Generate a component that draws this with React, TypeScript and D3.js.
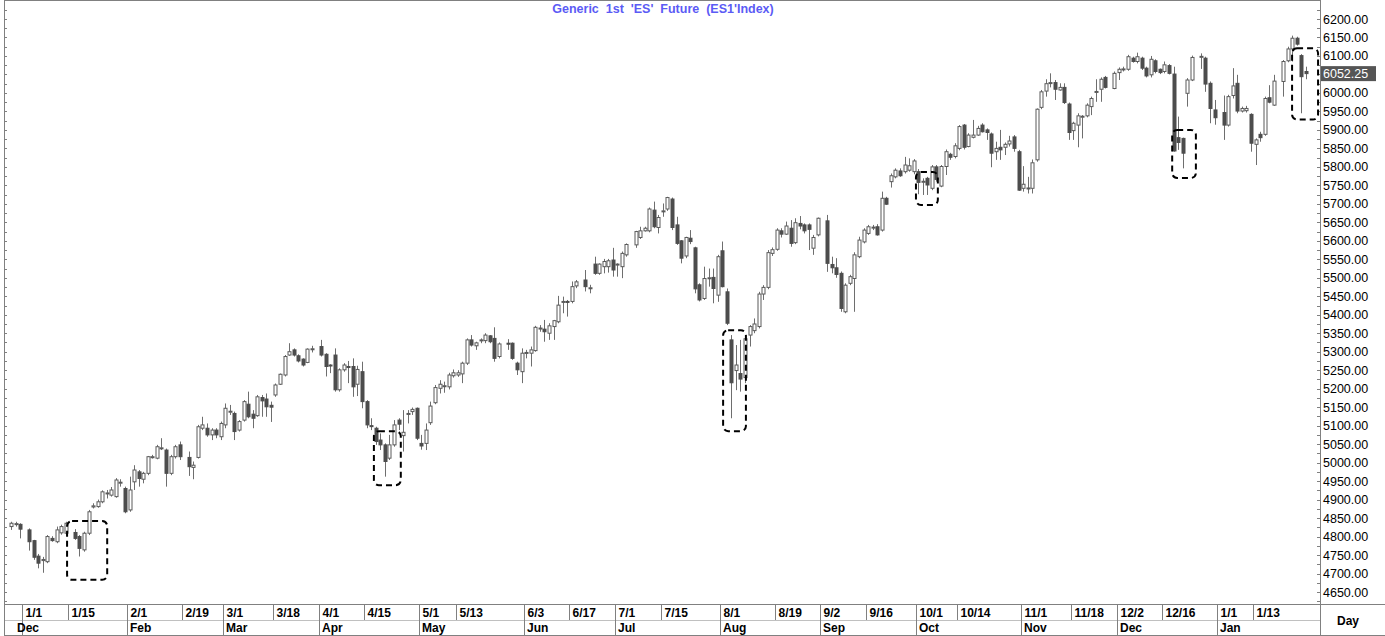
import React from 'react';
import * as d3 from 'd3';

// ---- Data (ES1 Index, daily OHLC, weekdays from 2023-12-27; null = no session) ----
const firstDate = '2023-12-27';
const lastDate = '2025-01-28';

const opens: (number | null)[] = [
  4827, 4834, 4833, null, 4818, 4789, 4747, 4735, 4732, 4795, 4786, 4810, 4809, null, 4811, 4800, 4764, 4809, 4880, 4881,
  4894, 4917, 4912, 4908, 4945, 4930, 4872, 4948, 4975, 4955, 4971, 5016, 5012, 5038, 5034, 4971, 5016, 5048, null, 5014,
  4987, 5014, 5093, 5093, 5075, 5088, 5070, 5102, 5138, 5133, 5088, 5115, 5158, 5131, 5127, 5176, 5172, 5155, 5183, 5212,
  5237, 5291, 5305, 5289, 5280, 5271, 5307, null, 5314, 5293, 5264, 5291, 5197, 5251, 5260, 5260, 5212, 5246, 5165, 5100,
  5093, 5061, 5048, 5012, 5048, 5115, 5073, 5131, 5138, 5147, 5052, 5052, 5108, 5162, 5201, 5207, 5205, 5235, 5237, 5240,
  5269, 5332, 5316, 5330, 5330, 5343, 5336, 5287, null, 5323, 5323, 5269, 5246, 5296, 5296, 5303, 5363, 5361, 5350, 5368,
  5381, 5435, 5436, 5436, 5478, null, 5494, 5472, 5537, 5512, 5530, 5530, 5548, 5535, 5530, 5562, null, 5589, 5609, 5627,
  5627, 5683, 5636, 5681, 5686, 5713, 5643, 5600, 5559, 5607, 5581, 5481, 5444, 5498, 5501, 5453, 5573, 5462, 5332, 5249,
  5241, 5230, 5345, 5357, 5368, 5456, 5474, 5566, 5577, 5627, 5618, 5634, 5595, 5647, 5643, 5643, 5580, 5616, null, 5654,
  5536, 5527, 5512, 5408, 5485, 5498, 5557, 5597, 5620, 5636, 5638, 5629, 5715, 5760, 5773, 5789, 5787, 5791, 5787, 5787,
  5760, 5769, 5742, 5800, 5748, 5801, 5834, 5828, 5850, 5913, 5855, 5880, 5886, 5913, 5900, 5889, 5841, 5853, 5853, 5862,
  5881, 5841, 5742, 5742, 5742, 5819, 5961, 6005, 6027, 6028, 6008, 6015, 5970, 5898, 5913, 5936, 5938, 5963, 6003, 6010,
  6042, null, 6012, 6055, 6064, 6064, 6094, 6085, 6094, 6067, 6049, 6087, 6064, 6058, 6074, 6051, 5879, 5877, 5999, 6035,
  null, 6098, 6094, 6026, 5954, null, 5947, 5913, 5993, 6026, 5951, 5952, 5942, 5861, 5888, 5888, 5987, 5967, null, 6031,
  6087, 6119, 6148, 6101, 6058,
];
const highs: (number | null)[] = [
  4840, 4840, 4836, null, 4822, 4791, 4753, 4745, 4804, 4801, 4827, 4832, 4840, null, 4820, 4804, 4813, 4872, 4890, 4900,
  4925, 4926, 4934, 4958, 4955, 4935, 4962, 4993, 4980, 4975, 5018, 5021, 5048, 5066, 5038, 5021, 5048, 5057, null, 5030,
  5003, 5102, 5124, 5106, 5093, 5093, 5111, 5160, 5156, 5138, 5115, 5169, 5192, 5142, 5183, 5183, 5187, 5165, 5214, 5241,
  5291, 5323, 5309, 5293, 5282, 5309, 5316, null, 5332, 5296, 5266, 5309, 5255, 5269, 5275, 5282, 5262, 5273, 5169, 5120,
  5097, 5079, 5052, 5075, 5115, 5120, 5142, 5142, 5149, 5149, 5075, 5106, 5165, 5210, 5223, 5219, 5243, 5252, 5250, 5273,
  5336, 5345, 5327, 5336, 5350, 5345, 5366, 5325, null, 5334, 5325, 5273, 5309, 5305, 5314, 5370, 5372, 5386, 5377, 5386,
  5451, 5449, 5440, 5490, 5494, null, 5521, 5481, 5557, 5539, 5551, 5551, 5581, 5539, 5571, 5593, null, 5627, 5638, 5638,
  5690, 5706, 5670, 5701, 5719, 5717, 5665, 5602, 5611, 5629, 5584, 5485, 5530, 5525, 5525, 5562, 5598, 5471, 5345, 5318,
  5332, 5345, 5372, 5390, 5462, 5480, 5575, 5582, 5634, 5634, 5652, 5656, 5661, 5667, 5647, 5647, 5616, 5663, null, 5670,
  5557, 5553, 5517, 5485, 5508, 5569, 5611, 5634, 5643, 5643, 5645, 5733, 5719, 5782, 5796, 5796, 5827, 5823, 5821, 5794,
  5769, 5773, 5805, 5805, 5805, 5847, 5838, 5864, 5913, 5916, 5891, 5927, 5911, 5918, 5904, 5893, 5868, 5900, 5866, 5884,
  5886, 5846, 5802, 5773, 5820, 5958, 6008, 6037, 6053, 6035, 6026, 6026, 5974, 5922, 5945, 5940, 5972, 5990, 6037, 6042,
  6046, null, 6058, 6069, 6071, 6103, 6098, 6109, 6098, 6071, 6100, 6091, 6066, 6085, 6078, 6071, 5936, 5879, 6040, 6101,
  null, 6107, 6098, 6031, 5981, null, 5993, 5995, 6067, 6049, 5963, 5965, 5945, 5877, 5895, 5990, 6021, 6049, null, 6089,
  6125, 6155, 6152, 6105, 6071,
];
const lows: (number | null)[] = [
  4818, 4827, 4795, null, 4762, 4737, 4714, 4702, 4728, 4786, 4782, 4805, 4804, null, 4791, 4746, 4759, 4804, 4876, 4878,
  4890, 4903, 4908, 4905, 4935, 4863, 4867, 4926, 4935, 4944, 4966, 5011, 5009, 5034, 4935, 4966, 5011, 5007, null, 4964,
  4955, 5011, 5088, 5070, 5061, 5066, 5061, 5093, 5129, 5061, 5084, 5111, 5120, 5093, 5124, 5124, 5124, 5110, 5178, 5210,
  5233, 5289, 5287, 5271, 5260, 5269, 5298, null, 5287, 5233, 5242, 5192, 5192, 5246, 5215, 5178, 5180, 5147, 5093, 5088,
  5048, 5034, 4962, 5007, 5043, 5088, 5030, 5106, 5129, 5061, 5035, 5034, 5102, 5158, 5187, 5189, 5198, 5230, 5232, 5215,
  5264, 5314, 5305, 5323, 5323, 5323, 5273, 5282, null, 5305, 5278, 5237, 5215, 5282, 5260, 5300, 5354, 5327, 5332, 5332,
  5377, 5404, 5395, 5431, 5472, null, 5463, 5458, 5508, 5508, 5512, 5514, 5503, 5503, 5499, 5557, null, 5581, 5605, 5625,
  5623, 5634, 5620, 5665, 5681, 5629, 5589, 5539, 5553, 5591, 5458, 5436, 5440, 5476, 5431, 5435, 5474, 5372, 5120, 5196,
  5192, 5215, 5314, 5350, 5363, 5440, 5469, 5559, 5573, 5609, 5616, 5584, 5591, 5631, 5620, 5575, 5562, 5612, null, 5516,
  5512, 5500, 5408, 5404, 5480, 5408, 5553, 5593, 5616, 5629, 5614, 5625, 5697, 5744, 5769, 5773, 5782, 5787, 5780, 5726,
  5724, 5724, 5737, 5760, 5745, 5778, 5819, 5823, 5845, 5847, 5853, 5877, 5884, 5893, 5873, 5799, 5819, 5819, 5832, 5855,
  5841, 5735, 5733, 5728, 5728, 5814, 5956, 5990, 6015, 5981, 6006, 5970, 5873, 5873, 5853, 5877, 5934, 5940, 5976, 5976,
  6012, null, 6010, 6035, 6058, 6060, 6082, 6080, 6062, 6042, 6042, 6053, 6051, 6053, 6050, 5841, 5846, 5796, 5963, 6032,
  null, 6065, 6003, 5918, 5914, null, 5873, 5909, 5985, 5945, 5947, 5947, 5841, 5805, 5868, 5884, 5972, 5965, null, 5990,
  6083, 6085, 6128, 5945, 6037,
];
const closes: (number | null)[] = [
  4836, 4835, 4820, null, 4786, 4744, 4728, 4738, 4800, 4789, 4818, 4827, 4836, null, 4795, 4768, 4809, 4867, 4883, 4894,
  4921, 4918, 4926, 4953, 4947, 4867, 4926, 4980, 4957, 4971, 5016, 5016, 5043, 5040, 4971, 5016, 5043, 5016, null, 4989,
  4993, 5097, 5102, 5075, 5088, 5075, 5106, 5147, 5139, 5084, 5111, 5165, 5124, 5120, 5178, 5167, 5151, 5150, 5210, 5239,
  5287, 5300, 5291, 5275, 5264, 5307, 5308, null, 5291, 5260, 5262, 5197, 5251, 5264, 5258, 5205, 5252, 5165, 5102, 5099,
  5057, 5048, 5003, 5048, 5102, 5104, 5082, 5133, 5144, 5066, 5045, 5088, 5153, 5203, 5212, 5208, 5237, 5243, 5243, 5269,
  5332, 5318, 5324, 5332, 5345, 5327, 5282, 5321, null, 5321, 5282, 5251, 5296, 5298, 5305, 5366, 5364, 5354, 5370, 5384,
  5426, 5436, 5435, 5476, 5489, null, 5476, 5473, 5512, 5537, 5544, 5546, 5521, 5537, 5566, 5590, null, 5625, 5627, 5634,
  5686, 5638, 5663, 5681, 5717, 5636, 5593, 5553, 5609, 5598, 5470, 5440, 5498, 5500, 5471, 5557, 5476, 5377, 5216, 5264,
  5226, 5335, 5368, 5375, 5456, 5474, 5568, 5576, 5629, 5618, 5640, 5593, 5649, 5640, 5627, 5631, 5609, 5661, null, 5539,
  5527, 5509, 5417, 5480, 5503, 5562, 5602, 5629, 5638, 5637, 5616, 5715, 5699, 5776, 5791, 5776, 5805, 5803, 5816, 5758,
  5761, 5751, 5800, 5766, 5801, 5841, 5826, 5857, 5909, 5853, 5886, 5886, 5904, 5895, 5893, 5837, 5850, 5846, 5861, 5870,
  5850, 5737, 5753, 5743, 5811, 5956, 6003, 6025, 6028, 6010, 6015, 5974, 5893, 5918, 5938, 5937, 5967, 5985, 6004, 6037,
  6015, null, 6053, 6064, 6065, 6098, 6085, 6098, 6067, 6046, 6091, 6058, 6055, 6076, 6053, 5843, 5866, 5837, 6035, 6096,
  null, 6099, 6024, 5958, 5933, null, 5913, 5990, 6019, 5951, 5958, 5958, 5864, 5873, 5879, 5985, 5975, 6032, null, 6085,
  6119, 6148, 6132, 6044, 6052.25,
];

const lastPrice = 6052.25;
const priceTicks = d3.range(4650, 6201, 50);
const minorTicks = d3.range(4625, 6226, 25);

const dayTicks: [string, string][] = [
  ['2024-01-01', '1/1'], ['2024-01-15', '1/15'], ['2024-02-01', '2/1'], ['2024-02-19', '2/19'],
  ['2024-03-01', '3/1'], ['2024-03-18', '3/18'], ['2024-04-01', '4/1'], ['2024-04-15', '4/15'],
  ['2024-05-01', '5/1'], ['2024-05-13', '5/13'], ['2024-06-03', '6/3'], ['2024-06-17', '6/17'],
  ['2024-07-01', '7/1'], ['2024-07-15', '7/15'], ['2024-08-01', '8/1'], ['2024-08-19', '8/19'],
  ['2024-09-02', '9/2'], ['2024-09-16', '9/16'], ['2024-10-01', '10/1'], ['2024-10-14', '10/14'],
  ['2024-11-01', '11/1'], ['2024-11-18', '11/18'], ['2024-12-02', '12/2'], ['2024-12-16', '12/16'],
  ['2025-01-01', '1/1'], ['2025-01-13', '1/13'],
];
const monthTicks: [string, string][] = [
  ['2023-12-27', 'Dec'], ['2024-02-01', 'Feb'], ['2024-03-01', 'Mar'], ['2024-04-01', 'Apr'],
  ['2024-05-01', 'May'], ['2024-06-03', 'Jun'], ['2024-07-01', 'Jul'], ['2024-08-01', 'Aug'],
  ['2024-09-02', 'Sep'], ['2024-10-01', 'Oct'], ['2024-11-01', 'Nov'], ['2024-12-02', 'Dec'],
  ['2025-01-01', 'Jan'],
];
const monthStarts: string[] = [
  '2024-01-01', '2024-02-01', '2024-03-01', '2024-04-01', '2024-05-01', '2024-06-03', '2024-07-01',
  '2024-08-01', '2024-09-02', '2024-10-01', '2024-11-01', '2024-12-02', '2025-01-01',
];

// Annotation boxes: [from bar index, to bar index (fractional edges), low price, high price]
const boxes: [number, number, number, number][] = [
  [12.3, 21.1, 4683, 4842],
  [79.6, 85.5, 4939, 5085],
  [156.2, 161.2, 5085, 5358],
  [198.5, 203.3, 5697, 5786],
  [254.7, 259.9, 5770, 5900],
  [281.0, 286.7, 5928, 6121],
];

const title = "Generic  1st  'ES'  Future  (ES1'Index)";

// ---- helpers ----
const fmt = d3.utcFormat('%Y-%m-%d');
const dates: string[] = d3.utcDays(new Date(firstDate + 'T00:00:00Z'), new Date(lastDate + 'T12:00:00Z'))
  .filter((d) => d.getUTCDay() !== 0 && d.getUTCDay() !== 6)
  .map(fmt);

const W = 1385;
const H = 636;
const plotL = 4;
const plotR = 1320;
const plotT = 0;
const plotB = 604;

const FONT = "'Liberation Sans', Arial, sans-serif";

export default function App() {
  const x = d3.scaleBand<string>().domain(dates).range([8.72, 8.72 + dates.length * 4.559]).padding(0);
  const bw = x.bandwidth();
  const cx = (d: string) => (x(d) as number) + bw / 2;
  const xi = d3.scaleLinear().domain([0, dates.length - 1]).range([cx(dates[0]), cx(dates[dates.length - 1])]);
  const y = d3.scaleLinear().domain([4650, 6200]).range([592, 19]);

  const candles = dates.map((d, i) => ({
    d, o: opens[i], h: highs[i], l: lows[i], c: closes[i],
  })).filter((k) => k.o != null && k.c != null);

  const dark = '#4d4d4d';
  const wickCol = '#6e6e6e';

  return (
    <svg width={W} height={H} style={{ position: 'absolute', left: 0, top: 0, display: 'block', background: '#fff' }}
      fontFamily={FONT}>
      <rect x={0} y={0} width={W} height={H} fill="#fff" />
      {/* plot frame */}
      <rect x={plotL + 0.5} y={plotT + 0.5} width={plotR - plotL} height={plotB - plotT} fill="none" stroke="#808080" strokeWidth={1} />
      {/* left minor ticks */}
      {minorTicks.map((v) => (
        <line key={'lt' + v} x1={plotL} x2={plotL + 3} y1={Math.round(y(v)) + 0.5} y2={Math.round(y(v)) + 0.5} stroke="#808080" />
      ))}
      {/* right ticks */}
      {minorTicks.map((v) => (
        <line key={'rt' + v} x1={plotR - 3} x2={plotR} y1={Math.round(y(v)) + 0.5} y2={Math.round(y(v)) + 0.5} stroke="#808080" />
      ))}
      {/* title */}
      <text x={663} y={13} textAnchor="middle" fontSize={12.5} fontWeight="bold" fill="#5b5bf5" style={{ whiteSpace: 'pre' }}>
        {title}
      </text>
      {/* candles */}
      {candles.map((k) => {
        const up = (k.c as number) >= (k.o as number);
        const xc = Math.round(cx(k.d)) + 0.5;
        const yo = y(k.o as number);
        const yc = y(k.c as number);
        const top = Math.min(yo, yc);
        const bh = Math.max(1, Math.abs(yo - yc));
        return (
          <g key={k.d}>
            <line x1={xc} x2={xc} y1={y(k.h as number)} y2={y(k.l as number)} stroke={wickCol} strokeWidth={1} />
            <rect x={xc - 1.5} y={top} width={3} height={bh} fill={up ? '#fff' : dark} stroke={up ? '#5a5a5a' : dark} strokeWidth={1} />
          </g>
        );
      })}
      {/* annotation boxes */}
      {boxes.map(([i0, i1, lo, hi], i) => {
        const x0 = xi(i0);
        const x1 = xi(i1);
        return (
          <rect key={'b' + i} x={x0} y={y(hi)} width={x1 - x0} height={y(lo) - y(hi)} rx={5} ry={5}
            fill="none" stroke="#000" strokeWidth={2} strokeDasharray="6 4" />
        );
      })}
      {/* right axis labels */}
      {priceTicks.map((v) => (
        <text key={'pl' + v} x={1323} y={y(v) + 4.5} fontSize={12.5} fill="#000">{v.toFixed(2)}</text>
      ))}
      {/* last price box */}
      <rect x={1321} y={y(lastPrice) - 7.5} width={55} height={15} fill="#555" />
      <text x={1323} y={y(lastPrice) + 4.5} fontSize={12.5} fill="#fff">{lastPrice.toFixed(2)}</text>
      {/* bottom axis */}
      <line x1={plotL} x2={W} y1={plotB + 0.5} y2={plotB + 0.5} stroke="#808080" />
      <line x1={plotL} x2={plotR} y1={620.5} y2={620.5} stroke="#c0c0c0" />
      <line x1={plotL} x2={W} y1={H - 0.5} y2={H - 0.5} stroke="#808080" />
      <line x1={plotL + 0.5} x2={plotL + 0.5} y1={plotB} y2={H} stroke="#808080" />
      <line x1={plotR + 0.5} x2={plotR + 0.5} y1={plotB} y2={H} stroke="#808080" />
      {dayTicks.map(([d, lab]) => {
        const xt = Math.round((x(d) as number)) + 0.5;
        return (
          <g key={'dt' + d}>
            <line x1={xt} x2={xt} y1={plotB} y2={620} stroke="#808080" />
            <text x={xt + 3} y={616.5} fontSize={12} fontWeight="bold" fill="#000">{lab}</text>
          </g>
        );
      })}
      {monthStarts.map((d) => {
        const xt = Math.round((x(d) as number)) + 0.5;
        return <line key={'ms' + d} x1={xt} x2={xt} y1={620} y2={H} stroke="#808080" />;
      })}
      {monthTicks.map(([d, lab], i) => {
        const xt = i === 0 ? 17 : Math.round((x(d) as number)) + 3;
        return <text key={'mt' + d} x={xt} y={632} fontSize={12} fontWeight="bold" fill="#000">{lab}</text>;
      })}
      <text x={1337} y={625} fontSize={12} fontWeight="bold" fill="#000">Day</text>
    </svg>
  );
}
